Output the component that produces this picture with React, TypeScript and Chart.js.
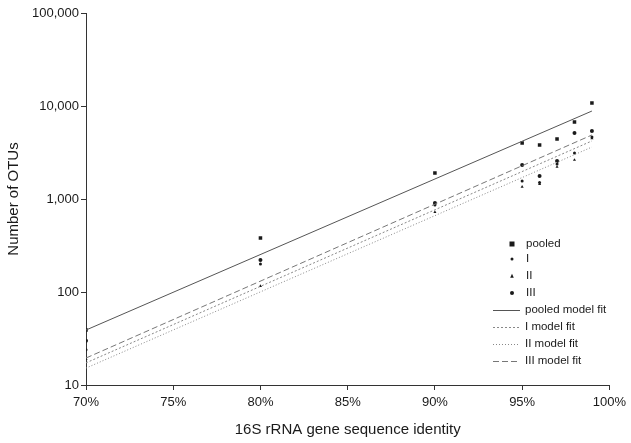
import React, { useEffect, useRef } from "react";
import { Chart, registerables } from "chart.js";

Chart.register(...registerables);

const xTickLabels = ["70%", "75%", "80%", "85%", "90%", "95%", "100%"];
const xTickValues = [70, 75, 80, 85, 90, 95, 100];
const yTickValues = [10, 100, 1000, 10000, 100000];
const yTickLabels = ["10", "100", "1,000", "10,000", "100,000"];

const identity = [70, 80, 90, 95, 96, 97, 98, 99];
const pooled = [39, 380, 1905, 4000, 3810, 4420, 6730, 10770];
const groupI = [24, 200, 861, 1560, 1500, 2380, 3130, 4650];
const groupII = [19, 116, 724, 1350, 1450, 2210, 2630, 4500];
const groupIII = [30, 221, 905, 2320, 1770, 2560, 5130, 5380];

const fitX = [70, 99];
const pooledFit = [39, 8830];
const groupIFit = [17.3, 4210];
const groupIIFit = [15.2, 3620];
const groupIIIFit = [19.5, 4880];

const FONT = "'Liberation Sans', Arial, sans-serif";
const INK = "#1a1a1a";

const toPts = (xs: number[], ys: number[]) => xs.map((x, i) => ({ x, y: ys[i] }));

const legendItems = [
  { label: "pooled", kind: "point", style: "rect", r: 2.5 },
  { label: "I", kind: "point", style: "circle", r: 1.5 },
  { label: "II", kind: "point", style: "triangle", r: 1.8 },
  { label: "III", kind: "point", style: "circle", r: 2 },
  { label: "pooled model fit", kind: "line", dash: [] as number[], color: "#555" },
  { label: "I model fit", kind: "line", dash: [2, 2], color: "#888" },
  { label: "II model fit", kind: "line", dash: [1, 2], color: "#888" },
  { label: "III model fit", kind: "line", dash: [6, 3], color: "#777" },
];
const legendY = [244, 259, 276, 293, 310, 327, 344, 361];

const legendPlugin = {
  id: "customLegend",
  afterDraw(chart: any) {
    const ctx = chart.ctx;
    ctx.save();
    ctx.font = `11.5px ${FONT}`;
    ctx.textBaseline = "middle";
    ctx.textAlign = "left";
    legendItems.forEach((it: any, i: number) => {
      const y = legendY[i];
      if (it.kind === "point") {
        ctx.fillStyle = INK;
        ctx.beginPath();
        if (it.style === "rect") {
          ctx.fillRect(512 - it.r, y - it.r, it.r * 2, it.r * 2);
        } else if (it.style === "triangle") {
          ctx.moveTo(512, y - it.r - 0.5);
          ctx.lineTo(512 + it.r, y + it.r);
          ctx.lineTo(512 - it.r, y + it.r);
          ctx.closePath();
          ctx.fill();
        } else {
          ctx.arc(512, y, it.r, 0, Math.PI * 2);
          ctx.fill();
        }
        ctx.fillStyle = INK;
        ctx.fillText(it.label, 526, y);
      } else {
        ctx.strokeStyle = it.color;
        ctx.lineWidth = 1;
        ctx.setLineDash(it.dash);
        ctx.beginPath();
        ctx.moveTo(493, y + 0.5);
        ctx.lineTo(520, y + 0.5);
        ctx.stroke();
        ctx.setLineDash([]);
        ctx.fillStyle = INK;
        ctx.fillText(it.label, 525, y);
      }
    });
    ctx.restore();
  },
};

export default function App() {
  const ref = useRef<HTMLCanvasElement | null>(null);
  useEffect(() => {
    if (!ref.current) return;
    const pointDs = (label: string, ys: number[], style: string, r: number) => ({
      type: "scatter" as const,
      label,
      data: toPts(identity, ys),
      pointStyle: style,
      pointRadius: r,
      pointBackgroundColor: INK,
      pointBorderColor: INK,
      pointBorderWidth: 0,
      showLine: false,
    });
    const lineDs = (label: string, ys: number[], dash: number[], color: string) => ({
      type: "line" as const,
      label,
      data: toPts(fitX, ys),
      borderColor: color,
      borderWidth: 1,
      borderDash: dash,
      pointRadius: 0,
      fill: false,
      tension: 0,
    });
    const chart = new Chart(ref.current, {
      type: "scatter",
      data: {
        datasets: [
          lineDs("pooled model fit", pooledFit, [], "#555"),
          lineDs("I model fit", groupIFit, [2, 2], "#888"),
          lineDs("II model fit", groupIIFit, [1, 2], "#888"),
          lineDs("III model fit", groupIIIFit, [6, 3], "#777"),
          pointDs("pooled", pooled, "rect", 2.5),
          pointDs("I", groupI, "circle", 1.5),
          pointDs("II", groupII, "triangle", 1.8),
          pointDs("III", groupIII, "circle", 2),
        ] as any,
      },
      options: {
        animation: false,
        responsive: false,
        maintainAspectRatio: false,
        layout: { padding: { left: 0, right: 16, top: 13, bottom: 0 } },
        plugins: {
          legend: { display: false },
          tooltip: { enabled: false },
        },
        scales: {
          x: {
            type: "linear",
            min: 70,
            max: 100,
            afterBuildTicks: (s: any) => {
              s.ticks = xTickValues.map((v) => ({ value: v }));
            },
            afterFit: (s: any) => {
              s.height = 58;
            },
            ticks: {
              callback: (v: any) => xTickLabels[xTickValues.indexOf(Number(v))] ?? "",
              font: { family: FONT, size: 13 },
              color: INK,
              padding: 5,
              maxRotation: 0,
            },
            grid: { drawOnChartArea: false, drawTicks: true, tickLength: 5, color: "#333" },
            border: { display: true, color: "#333", width: 1 },
            title: {
              display: true,
              text: "16S rRNA gene sequence identity",
              font: { family: FONT, size: 15 },
              color: INK,
              padding: { top: 0, bottom: 4 },
            },
          },
          y: {
            type: "logarithmic",
            min: 10,
            max: 100000,
            afterBuildTicks: (s: any) => {
              s.ticks = yTickValues.map((v) => ({ value: v }));
            },
            afterFit: (s: any) => {
              s.width = 86;
            },
            ticks: {
              callback: (v: any) => yTickLabels[yTickValues.indexOf(Number(v))] ?? "",
              font: { family: FONT, size: 13 },
              color: INK,
              padding: 2,
            },
            grid: { drawOnChartArea: false, drawTicks: true, tickLength: 5, color: "#333" },
            border: { display: true, color: "#333", width: 1 },
            title: {
              display: true,
              text: "Number of OTUs",
              font: { family: FONT, size: 15 },
              color: INK,
              padding: { top: 5, bottom: 0 },
            },
          },
        },
      },
      plugins: [legendPlugin],
    });
    return () => chart.destroy();
  }, []);
  return (
    <div style={{ position: "fixed", left: 0, top: 0, width: 631, height: 443, background: "#fff" }}>
      <canvas ref={ref} width={631} height={443} style={{ width: 631, height: 443, display: "block" }} />
    </div>
  );
}
